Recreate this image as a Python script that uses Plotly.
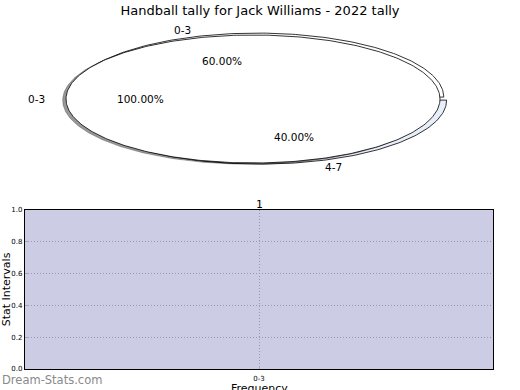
import numpy as np
import plotly.graph_objects as go

# ---- data ----
title_text = "Handball tally for Jack Williams - 2022 tally"
pie_a_labels = ["0-3", "4-7"]
pie_a_values = [3, 2]
pie_a_colors = ["#ffffff", "#e9eefb"]
pie_a_explode = [0.0, 0.05]
pie_b_labels = ["0-3"]
pie_b_values = [1]
pie_b_colors = ["#ffffff"]
bar_categories = ["0-3"]
bar_values = [1]
x_title = "Frequency"
y_title = "Stat Intervals"

W, H = 520, 390
FONT = "DejaVu Sans"

fig = go.Figure()

# pie subplot mapping (unit circle -> ellipse)
PX_CX, PX_CY, PX_RX, PX_RY = 253.0, 99.0, 187.0, 64.0
top_px, bot_px = 20.0, 190.0
xr = [(0 - PX_CX) / PX_RX, (W - PX_CX) / PX_RX]
yr = [(PX_CY - bot_px) / PX_RY, (PX_CY - top_px) / PX_RY]


def wedge(cx, cy, t1, t2, r=1.0):
    th = np.radians(np.linspace(t1, t2, max(int(abs(t2 - t1)), 2) + 1))
    xs = cx + r * np.cos(th)
    ys = cy + r * np.sin(th)
    if abs(t2 - t1) < 359.9:
        xs = np.concatenate([[cx], xs, [cx]])
        ys = np.concatenate([[cy], ys, [cy]])
    return xs, ys


annotations = []


def draw_pie(values, labels, colors, explode, center, shadow=False):
    total = float(sum(values))
    start = 0.0
    for v, lab, col, ex in zip(values, labels, colors, explode):
        frac = v / total
        t1, t2 = start, start + 360 * frac
        mid = np.radians((t1 + t2) / 2)
        cx = center[0] + ex * np.cos(mid)
        cy = center[1] + ex * np.sin(mid)
        if shadow:
            xs, ys = wedge(cx - 0.018, cy - 0.02, t1, t2)
            fig.add_trace(go.Scatter(x=xs, y=ys, mode="lines", fill="toself",
                                     fillcolor="rgba(0,0,0,0.4)",
                                     line=dict(color="rgba(0,0,0,0.25)", width=1),
                                     xaxis="x2", yaxis="y2", hoverinfo="skip",
                                     showlegend=False))
        xs, ys = wedge(cx, cy, t1, t2)
        fig.add_trace(go.Scatter(x=xs, y=ys, mode="lines", fill="toself",
                                 fillcolor=col, line=dict(color="black", width=0.8),
                                 xaxis="x2", yaxis="y2", hoverinfo="skip",
                                 showlegend=False))
        lx = cx + 1.1 * np.cos(mid)
        ly = cy + 1.1 * np.sin(mid)
        annotations.append(dict(x=lx, y=ly, xref="x2", yref="y2", text=lab,
                                showarrow=False, xanchor="left" if np.cos(mid) >= 0 else "right",
                                yanchor="middle", font=dict(family=FONT, size=10.5, color="black")))
        px = cx + 0.6 * np.cos(mid)
        py = cy + 0.6 * np.sin(mid)
        annotations.append(dict(x=px, y=py, xref="x2", yref="y2",
                                text="%.2f%%" % (frac * 100), showarrow=False,
                                xanchor="center", yanchor="middle",
                                font=dict(family=FONT, size=10.5, color="black")))
        start = t2


draw_pie(pie_a_values, pie_a_labels, pie_a_colors, pie_a_explode, (0.02, 0.03))
draw_pie(pie_b_values, pie_b_labels, pie_b_colors, [0.0], (0.0, 0.0), shadow=True)

# bar chart
fig.add_trace(go.Bar(x=bar_categories, y=bar_values,
                     marker=dict(color="rgba(128,128,190,0.4)", line=dict(width=0)),
                     width=1.0, showlegend=False, hoverinfo="skip",
                     xaxis="x", yaxis="y"))
for c, v in zip(bar_categories, bar_values):
    annotations.append(dict(x=c, y=v, xref="x", yref="y", text=str(v), showarrow=False,
                            xanchor="center", yanchor="bottom", yshift=-3,
                            font=dict(family="DejaVu Sans Mono", size=11, color="black")))

annotations.append(dict(x=259 / W, y=1 - 380 / H, xref="paper", yref="paper", text=x_title,
                        showarrow=False, xanchor="center", yanchor="top",
                        font=dict(family=FONT, size=11, color="black")))

annotations.append(dict(x=0, y=1 - 380 / H, xref="paper", yref="paper", text="Dream-Stats.com",
                        showarrow=False, xanchor="left", yanchor="middle",
                        font=dict(family=FONT, size=11.5, color="#8a8a8a")))

fig.update_layout(
    width=W, height=H,
    margin=dict(l=0, r=0, t=0, b=0),
    paper_bgcolor="white", plot_bgcolor="white",
    title=dict(text=title_text, x=0.5, xanchor="center", y=1 - 10 / H, yanchor="middle",
               font=dict(family=FONT, size=13, color="black")),
    annotations=annotations,
    bargap=0,
    xaxis=dict(domain=[25 / W, 493 / W], range=[-0.5, 0.5], type="category",
               showline=True, linecolor="black", linewidth=1.2, mirror=True,
               ticks="inside", ticklen=3, tickcolor="#aaaaaa",
               showgrid=True, gridcolor="#a8a8a8", griddash="1px,2px", gridwidth=1,
               tickfont=dict(family=FONT, size=7, color="black"),
               ticklabelstandoff=2,
               anchor="y", fixedrange=True, automargin=False),
    yaxis=dict(domain=[1 - 369 / H, 1 - 210 / H], range=[0, 1],
               tickvals=[0, 0.2, 0.4, 0.6, 0.8, 1.0], ticktext=["0.0", "0.2", "0.4", "0.6", "0.8", "1.0"],
               showline=True, linecolor="black", linewidth=1.2, mirror=True,
               ticks="inside", ticklen=3, tickcolor="#aaaaaa",
               showgrid=True, gridcolor="#a8a8a8", griddash="1px,2px", gridwidth=1,
               zeroline=False,
               tickfont=dict(family=FONT, size=7, color="black"),
               title=dict(text=y_title, standoff=0,
                          font=dict(family=FONT, size=11, color="black")),
               anchor="x", fixedrange=True, automargin=False),
    xaxis2=dict(domain=[0, 1], range=xr, visible=False, anchor="y2", fixedrange=True),
    yaxis2=dict(domain=[1 - bot_px / H, 1 - top_px / H], range=yr, visible=False,
                anchor="x2", fixedrange=True),
)

fig.write_html("out.html", post_script="document.body.style.margin='0';",
               config={"displayModeBar": False})
